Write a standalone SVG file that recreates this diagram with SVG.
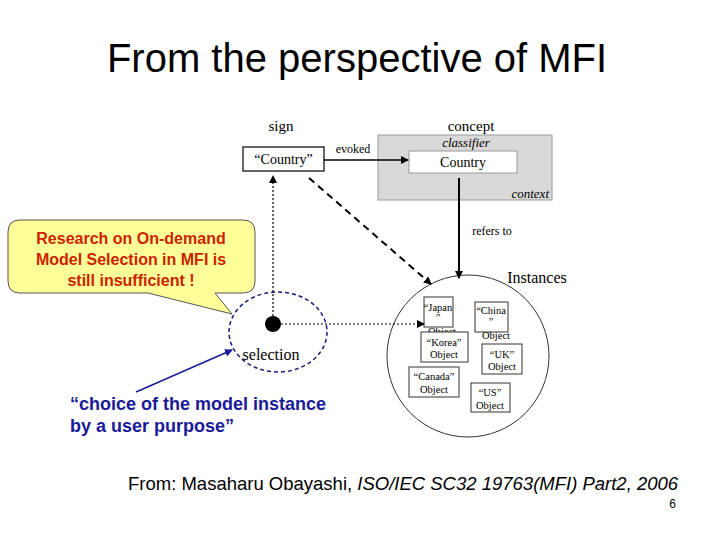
<svg xmlns="http://www.w3.org/2000/svg" width="720" height="540" viewBox="0 0 720 540">
<style>
.s{font-family:"Liberation Serif",serif;fill:#000}
.a{font-family:"Liberation Sans",Arial,sans-serif}
.ob{fill:#fff;stroke:#333;stroke-width:1}
.ot{font-family:"Liberation Serif",serif;font-size:10.5px;text-anchor:middle}
</style>
<defs>
<marker id="ar" markerWidth="8" markerHeight="8" refX="7" refY="4" orient="auto" markerUnits="userSpaceOnUse"><path d="M0,0 L8,4 L0,8 z" fill="#000"/></marker>
<marker id="ab" markerWidth="8" markerHeight="8" refX="7" refY="4" orient="auto" markerUnits="userSpaceOnUse"><path d="M0,0 L8,4 L0,8 z" fill="#1a1a99"/></marker>
</defs>
<rect width="720" height="540" fill="#fff"/>
<text x="357" y="72" class="a" font-size="40" text-anchor="middle">From the perspective of MFI</text>
<g id="sign">
<text x="281" y="131" class="s" font-size="15" text-anchor="middle">sign</text>
<rect x="243" y="147" width="81" height="24" fill="#fff" stroke="#333" stroke-width="1.5"/>
<text x="283.5" y="164" class="s" font-size="14" text-anchor="middle">“Country”</text>
</g>
<g id="concept">
<text x="471" y="131" class="s" font-size="15" text-anchor="middle">concept</text>
<rect x="378" y="135" width="174" height="65" fill="#d9d9d9" stroke="#999"/>
<text x="466" y="147" class="s" font-size="13" font-style="italic" text-anchor="middle">classifier</text>
<rect x="409" y="151" width="108" height="22" fill="#fff" stroke="#999"/>
<text x="463" y="167" class="s" font-size="14" text-anchor="middle">Country</text>
<text x="549" y="198" class="s" font-size="13" font-style="italic" text-anchor="end">context</text>
</g>
<g id="callout">
<path d="M20,220 H243 Q255,220 255,232 V281 Q255,293 243,293 H215 L232,314 L148,293 H20 Q8,293 8,281 V232 Q8,220 20,220 Z" fill="#ffff99" stroke="#555" stroke-width="1"/>
<g class="a" font-size="16" font-weight="bold" fill="#cc2200" text-anchor="middle">
<text x="131" y="244">Research on On-demand</text>
<text x="131" y="265">Model Selection in MFI is</text>
<text x="131" y="286">still insufficient !</text>
</g>
</g>
<g id="selection">
<ellipse cx="278" cy="332" rx="49" ry="40" fill="none" stroke="#1a1a80" stroke-width="1.5" stroke-dasharray="4,3"/>
<circle cx="273" cy="324" r="8" fill="#000"/>
<text x="271" y="360" class="s" font-size="16" text-anchor="middle">selection</text>
</g>
<g id="instances">
<text x="537" y="283" class="s" font-size="16" text-anchor="middle">Instances</text>
<circle cx="468" cy="356" r="81" fill="#fff" stroke="#333"/>
<rect class="ob" x="424" y="297" width="29" height="30"/>
<text class="ot" x="438" y="311">“Japan</text><text class="ot" x="438" y="321">”</text><text class="ot" x="442" y="335">Object</text>
<rect class="ob" x="475" y="302" width="33" height="30"/>
<text class="ot" x="491" y="314">“China</text><text class="ot" x="491" y="325">”</text><text class="ot" x="496" y="339">Object</text>
<rect class="ob" x="421" y="332" width="47" height="30"/>
<text class="ot" x="444" y="346">“Korea”</text><text class="ot" x="444" y="358">Object</text>
<rect class="ob" x="482" y="344" width="40" height="30"/>
<text class="ot" x="502" y="358">“UK”</text><text class="ot" x="502" y="370">Object</text>
<rect class="ob" x="409" y="367" width="50" height="30"/>
<text class="ot" x="434" y="380">“Canada”</text><text class="ot" x="434" y="393">Object</text>
<rect class="ob" x="471" y="383" width="39" height="29"/>
<text class="ot" x="490" y="396">“US”</text><text class="ot" x="490" y="409">Object</text>
</g>
<g id="connectors">
<line x1="324" y1="160" x2="408" y2="160" stroke="#000" stroke-width="1.5" marker-end="url(#ar)"/>
<text x="353" y="153" class="s" font-size="12" text-anchor="middle">evoked</text>
<line x1="459" y1="178" x2="459" y2="278" stroke="#000" stroke-width="2" marker-end="url(#ar)"/>
<text x="492" y="235" class="s" font-size="12" text-anchor="middle">refers to</text>
<line x1="309" y1="178" x2="431" y2="284" stroke="#000" stroke-width="2" stroke-dasharray="7,5" marker-end="url(#ar)"/>
<line x1="273" y1="316" x2="273" y2="176" stroke="#000" stroke-width="1.2" stroke-dasharray="2,2" marker-end="url(#ar)"/>
<line x1="281" y1="324" x2="424" y2="324" stroke="#000" stroke-width="1.2" stroke-dasharray="2,2" marker-end="url(#ar)"/>
<line x1="136" y1="392" x2="232" y2="350" stroke="#1a1a99" stroke-width="1.5" marker-end="url(#ab)"/>
</g>
<g class="a" font-size="18" font-weight="bold" fill="#1a1a99">
<text x="70" y="410">“choice of the model instance</text>
<text x="70" y="432">by a user purpose”</text>
</g>
<text x="128" y="490" class="a" font-size="18.5">From: Masaharu Obayashi, <tspan font-style="italic">ISO/IEC SC32 19763(MFI) Part2, 2006</tspan></text>
<text x="676" y="508" class="a" font-size="12" text-anchor="end">6</text>
</svg>
